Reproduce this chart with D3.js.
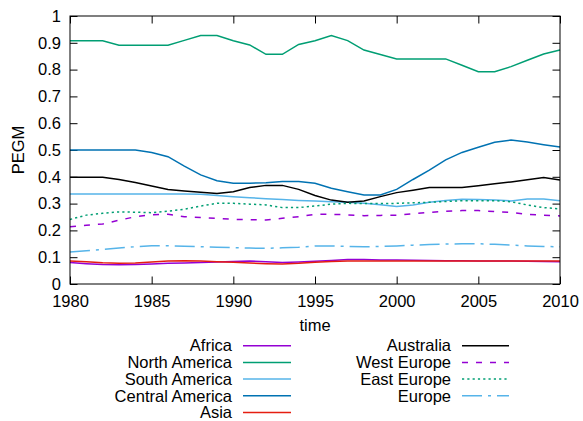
<!DOCTYPE html>
<html>
<head>
<meta charset="utf-8">
<script src="https://cdn.jsdelivr.net/npm/d3@7"></script>
<style>
  html, body { margin: 0; padding: 0; background: #fff; }
  svg text { font-family: "Liberation Sans", Arial, sans-serif; fill: #000; }
</style>
</head>
<body>
<svg id="chart" width="583" height="421"></svg>
<script>
const years = d3.range(1980, 2011);

const africa = [0.080,0.076,0.073,0.072,0.073,0.075,0.077,0.078,0.080,0.082,0.084,0.086,0.083,0.080,0.082,0.085,0.088,0.091,0.091,0.090,0.090,0.089,0.088,0.087,0.087,0.086,0.086,0.086,0.085,0.084,0.083];
const northAmerica = [0.908,0.908,0.908,0.891,0.891,0.891,0.891,0.909,0.927,0.927,0.908,0.892,0.857,0.857,0.894,0.908,0.927,0.908,0.873,0.856,0.840,0.840,0.840,0.840,0.816,0.792,0.792,0.811,0.835,0.858,0.873];
const southAmerica = [0.336,0.336,0.336,0.336,0.336,0.336,0.336,0.336,0.335,0.330,0.326,0.322,0.318,0.315,0.312,0.310,0.307,0.305,0.301,0.296,0.289,0.295,0.305,0.312,0.316,0.315,0.313,0.310,0.317,0.317,0.311];
const centralAmerica = [0.500,0.500,0.500,0.500,0.500,0.491,0.475,0.440,0.407,0.385,0.376,0.376,0.378,0.382,0.382,0.376,0.357,0.344,0.332,0.332,0.353,0.390,0.425,0.463,0.491,0.510,0.529,0.537,0.530,0.520,0.511];
const asia = [0.086,0.083,0.079,0.077,0.078,0.082,0.086,0.087,0.086,0.083,0.081,0.078,0.076,0.075,0.077,0.081,0.084,0.086,0.086,0.086,0.086,0.086,0.086,0.086,0.086,0.086,0.086,0.086,0.086,0.086,0.086];
const australia = [0.398,0.398,0.398,0.390,0.379,0.366,0.353,0.347,0.342,0.338,0.344,0.360,0.368,0.368,0.353,0.330,0.313,0.305,0.310,0.326,0.341,0.350,0.360,0.360,0.360,0.367,0.374,0.381,0.389,0.397,0.388];
const westEurope = [0.214,0.219,0.224,0.238,0.251,0.258,0.260,0.251,0.248,0.245,0.241,0.240,0.239,0.245,0.251,0.260,0.260,0.258,0.255,0.256,0.257,0.262,0.267,0.271,0.274,0.274,0.270,0.267,0.260,0.257,0.254];
const eastEurope = [0.241,0.257,0.264,0.269,0.268,0.266,0.272,0.279,0.291,0.301,0.301,0.298,0.295,0.285,0.285,0.291,0.298,0.301,0.300,0.300,0.301,0.303,0.305,0.308,0.311,0.311,0.311,0.307,0.295,0.285,0.280];
const europe = [0.119,0.124,0.129,0.134,0.139,0.143,0.143,0.141,0.139,0.137,0.136,0.134,0.133,0.135,0.137,0.142,0.142,0.140,0.139,0.140,0.142,0.145,0.147,0.149,0.150,0.150,0.148,0.145,0.142,0.140,0.139];

const xTicks = [1980, 1985, 1990, 1995, 2000, 2005, 2010];
const yTicks = [0, 0.1, 0.2, 0.3, 0.4, 0.5, 0.6, 0.7, 0.8, 0.9, 1];
const yTickLabels = ["0", "0.1", "0.2", "0.3", "0.4", "0.5", "0.6", "0.7", "0.8", "0.9", "1"];

const seriesNames = ["Africa","North America","South America","Central America","Asia","Australia","West Europe","East Europe","Europe"];
const seriesValues = [africa, northAmerica, southAmerica, centralAmerica, asia, australia, westEurope, eastEurope, europe];
const seriesColors = ["#9400d3","#009e73","#56b4e9","#0072b2","#e51e10","#000000","#9400d3","#009e73","#56b4e9"];
const seriesDash = [null,null,null,null,null,null,"6,8","2.2,3.1","20,6,3,6"];

const svg = d3.select("#chart");
const L = 70, R = 560, T = 16, B = 284;
const x = d3.scaleLinear().domain([1980, 2010]).range([L, R]);
const y = d3.scaleLinear().domain([0, 1]).range([B, T]);

const FS = 16.5;
const tick = 7.5;
// axes
const gL = svg.append("g").attr("transform", `translate(${L},0)`)
  .call(d3.axisLeft(y).tickValues(yTicks).tickSize(-tick).tickPadding(9)
        .tickFormat((d, i) => yTickLabels[i]));
const gB = svg.append("g").attr("transform", `translate(0,${B})`)
  .call(d3.axisBottom(x).tickValues(xTicks).tickSize(-tick).tickPadding(11).tickFormat(d3.format("d")));
const gR = svg.append("g").attr("transform", `translate(${R},0)`)
  .call(d3.axisRight(y).tickValues(yTicks).tickSize(-tick).tickFormat(""));
const gT = svg.append("g").attr("transform", `translate(0,${T})`)
  .call(d3.axisTop(x).tickValues(xTicks).tickSize(-tick).tickFormat(""));
[gL, gB, gR, gT].forEach(g => {
  g.select(".domain").remove();
  g.selectAll(".tick line").attr("stroke", "#000").attr("stroke-width", 1);
  g.selectAll("text").attr("font-size", FS).attr("font-family", "Liberation Sans, Arial, sans-serif").attr("fill", "#000");
});
gB.selectAll("text").attr("dy", "0.71em");

// series
const line = d3.line().x((d, i) => x(years[i])).y(d => y(d));
seriesValues.forEach((vals, k) => {
  svg.append("path")
    .attr("d", line(vals))
    .attr("fill", "none")
    .attr("stroke", seriesColors[k])
    .attr("stroke-width", 1.5)
    .attr("stroke-dasharray", seriesDash[k]);
});

// frame
svg.append("rect").attr("x", L).attr("y", T).attr("width", R - L).attr("height", B - T)
  .attr("fill", "none").attr("stroke", "#000").attr("stroke-width", 1);

// axis titles
svg.append("text").attr("x", 315).attr("y", 331).attr("text-anchor", "middle")
  .attr("font-size", FS).text("time");
svg.append("text").attr("transform", "translate(24,150) rotate(-90)").attr("text-anchor", "middle")
  .attr("font-size", FS).text("PEGM");

// legend
const rowH = 16.7, row0 = 345.7;
seriesNames.forEach((name, k) => {
  const col = k < 5 ? 0 : 1;
  const r = k < 5 ? k : k - 5;
  const ty = row0 + r * rowH;
  const textX = col === 0 ? 232 : 451;
  const lx1 = col === 0 ? 243 : 462;
  const lx2 = col === 0 ? 291 : 509;
  svg.append("text").attr("x", textX).attr("y", ty).attr("dy", "0.35em")
    .attr("text-anchor", "end").attr("font-size", FS).text(name);
  svg.append("line").attr("x1", lx1).attr("x2", lx2).attr("y1", ty).attr("y2", ty)
    .attr("stroke", seriesColors[k]).attr("stroke-width", 1.5)
    .attr("stroke-dasharray", seriesDash[k]);
});
</script>
</body>
</html>
